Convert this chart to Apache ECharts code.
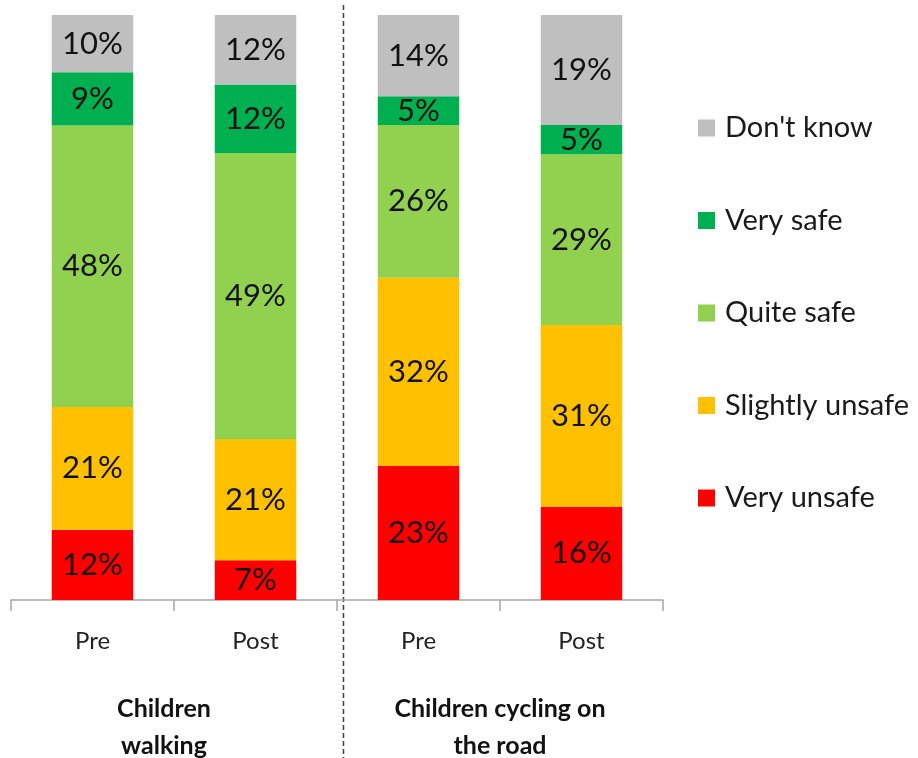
<!DOCTYPE html>
<html>
<head>
<meta charset="utf-8">
<script src="https://cdn.jsdelivr.net/npm/echarts@6/dist/echarts.min.js"></script>
<style>
html,body{margin:0;padding:0;background:#fff;}
#chart{width:918px;height:758px;}
</style>
</head>
<body>
<div id="chart"></div>
<script>
// ---- Data ----
var categories = ['Pre', 'Post', 'Pre', 'Post'];
var groups = ['Children\nwalking', 'Children cycling on\nthe road'];
var seriesNames = ['Very unsafe', 'Slightly unsafe', 'Quite safe', 'Very safe', "Don't know"];
var veryUnsafe     = [12.0, 6.8, 22.9, 15.9];
var slightlyUnsafe = [21.0, 20.7, 32.2, 31.1];
var quiteSafe      = [48.1, 48.9, 26.1, 29.2];
var verySafe       = [9.1, 11.7, 4.9, 5.0];
var dontKnow       = [9.8, 11.9, 13.9, 18.8];
var colors = ['#FF0000', '#FFC000', '#92D050', '#00B050', '#BFBFBF'];

var FONT = 'Lato, "Open Sans", sans-serif';
var values = [veryUnsafe, slightlyUnsafe, quiteSafe, verySafe, dontKnow];

var series = seriesNames.map(function (name, i) {
  return {
    name: name,
    type: 'bar',
    stack: 'total',
    barWidth: '50%',
    data: values[i],
    itemStyle: { color: colors[i] },
    label: {
      show: true,
      position: 'inside',
      color: '#111',
      fontFamily: FONT,
      fontSize: 31,
      formatter: function (p) { return Math.round(p.value) + '%'; }
    },
    emphasis: { disabled: true }
  };
});

var chart = echarts.init(document.getElementById('chart'), null, { renderer: 'canvas' });
chart.setOption({
  animation: false,
  backgroundColor: '#fff',
  grid: { left: 11, right: 255, top: 15, bottom: 158, containLabel: false, outerBoundsMode: 'none' },
  legend: {
    orient: 'vertical',
    left: 698,
    top: 113,
    padding: 0,
    itemWidth: 17,
    itemHeight: 17,
    itemGap: 62.5,
    icon: 'rect',
    data: seriesNames.slice().reverse(),
    textStyle: { fontFamily: FONT, fontSize: 29, color: '#1a1a1a', lineHeight: 30, padding: [0, 0, 0, 5] }
  },
  xAxis: [
    {
      type: 'category',
      data: categories,
      position: 'bottom',
      axisLine: { show: true, lineStyle: { color: '#A6A6A6', width: 1.5 } },
      axisTick: { show: true, length: 11, lineStyle: { color: '#A6A6A6', width: 1.5 } },
      axisLabel: { margin: 29, fontFamily: FONT, fontSize: 24, color: '#222' }
    },
    {
      type: 'category',
      data: [
        { value: groups[0], textStyle: { padding: [0, 20, 0, 0] } },
        { value: groups[1] }
      ],
      position: 'bottom',
      axisLine: { show: false },
      axisTick: { show: false },
      axisLabel: { margin: 90, fontFamily: FONT, fontSize: 25, fontWeight: 'bold', color: '#111', lineHeight: 37 }
    }
  ],
  yAxis: {
    type: 'value',
    min: 0,
    max: 100,
    show: false,
    splitLine: { show: false }
  },
  graphic: [
    {
      type: 'line',
      shape: { x1: 343.5, y1: 5, x2: 343.5, y2: 758 },
      style: { stroke: '#404040', lineWidth: 1.5, lineDash: [5, 3] },
      silent: true
    }
  ],
  series: series
});
</script>
</body>
</html>
